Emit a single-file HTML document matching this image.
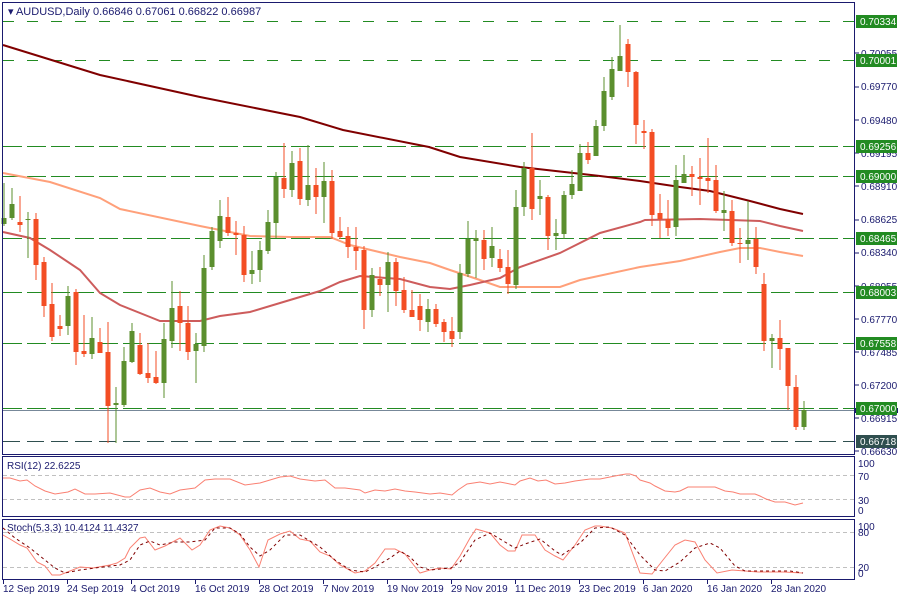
<!DOCTYPE html>
<html><head><meta charset="utf-8"><style>
html,body{margin:0;padding:0;background:#fff;width:900px;height:600px;overflow:hidden}
svg{display:block;font-family:"Liberation Sans",sans-serif}
</style></head><body>
<svg id="s" width="900" height="600" xmlns="http://www.w3.org/2000/svg">
<rect width="900" height="600" fill="#fff"/>
<g id="grid" fill="none" stroke-width="1">
<line x1="3" y1="21.5" x2="854" y2="21.5" stroke="#228b22" stroke-dasharray="11 13"/>
<line x1="3" y1="60.5" x2="854" y2="60.5" stroke="#228b22" stroke-dasharray="11 13"/>
<line x1="3" y1="146.5" x2="854" y2="146.5" stroke="#228b22" stroke-dasharray="19 5"/>
<line x1="3" y1="176.5" x2="854" y2="176.5" stroke="#228b22" stroke-dasharray="19 5"/>
<line x1="3" y1="238.5" x2="854" y2="238.5" stroke="#228b22" stroke-dasharray="19 5"/>
<line x1="3" y1="292.5" x2="854" y2="292.5" stroke="#228b22" stroke-dasharray="19 5"/>
<line x1="3" y1="343.5" x2="854" y2="343.5" stroke="#228b22" stroke-dasharray="19 5"/>
<line x1="3" y1="408.5" x2="854" y2="408.5" stroke="#228b22" stroke-dasharray="19 5"/>
<line x1="3" y1="441.5" x2="854" y2="441.5" stroke="#2f4f4f" stroke-dasharray="17 7"/>
<line x1="3" y1="410.5" x2="854" y2="410.5" stroke="#778899"/>
</g>
<g fill="none" stroke-width="2">
<polyline stroke="#800000" points="3,45 100,75 200,97 300,117 343,130 429,147 460,157 520,167 600,176 640,181 680,187 710,191 750,201 780,209 803,214"/>
<polyline stroke="#ffa07a" points="3,173 50,182 100,198 120,209 200,226 250,236 290,237 330,237 350,245 400,257 430,263 450,270 480,280 500,287 560,287 580,280 640,267 680,261 720,252 740,248 760,248 780,252 803,256"/>
<polyline stroke="#cd5c5c" points="3,232 30,238 50,250 80,270 100,293 120,305 150,317 160,321 200,321 220,316 250,312 290,300 320,291 340,282 360,276 400,279 430,287 450,289 470,285 500,278 520,267 560,253 600,233 640,222 645,220 700,219 760,221 780,226 803,231"/>
</g>
<g id="candles"></g>
<!-- frames -->
<g fill="none" stroke="#1a1a6e" stroke-width="1">
<rect x="2.5" y="2.5" width="852" height="452"/>
<rect x="2.5" y="456.5" width="852" height="60"/>
<rect x="2.5" y="519.5" width="852" height="60"/>
</g>
<text x="8" y="15" font-size="11" fill="#1a1a6e">▾ AUDUSD,Daily  0.66846 0.67061 0.66822 0.66987</text>
<!-- right axis -->
<g font-size="10" fill="#1a1a6e">
<text x="861" y="57">0.70055</text>
<text x="861" y="90">0.69770</text>
<text x="861" y="124">0.69480</text>
<text x="861" y="157">0.69195</text>
<text x="861" y="190">0.68910</text>
<text x="861" y="223">0.68625</text>
<text x="861" y="256">0.68340</text>
<text x="861" y="290">0.68055</text>
<text x="861" y="323">0.67770</text>
<text x="861" y="356">0.67485</text>
<text x="861" y="389">0.67200</text>
<text x="861" y="422">0.66915</text>
<text x="861" y="455">0.66630</text>
</g>
<g stroke="#1a1a6e">
<line x1="855" y1="53" x2="859" y2="53"/><line x1="855" y1="87" x2="859" y2="87"/><line x1="855" y1="120" x2="859" y2="120"/><line x1="855" y1="153" x2="859" y2="153"/><line x1="855" y1="186" x2="859" y2="186"/><line x1="855" y1="220" x2="859" y2="220"/><line x1="855" y1="253" x2="859" y2="253"/><line x1="855" y1="286" x2="859" y2="286"/><line x1="855" y1="319" x2="859" y2="319"/><line x1="855" y1="352" x2="859" y2="352"/><line x1="855" y1="385" x2="859" y2="385"/><line x1="855" y1="418" x2="859" y2="418"/><line x1="855" y1="451" x2="859" y2="451"/>
</g>
<rect x="855" y="408" width="43" height="5" fill="#1a1a6e"/>
<g font-size="10" fill="#fff">
<rect x="856" y="15" width="41" height="13" fill="#228b22"/><text x="860" y="25">0.70334</text>
<rect x="856" y="54" width="41" height="13" fill="#228b22"/><text x="860" y="64">0.70001</text>
<rect x="856" y="140" width="41" height="13" fill="#228b22"/><text x="860" y="150">0.69256</text>
<rect x="856" y="170" width="41" height="13" fill="#228b22"/><text x="860" y="180">0.69000</text>
<rect x="856" y="232" width="41" height="13" fill="#228b22"/><text x="860" y="242">0.68465</text>
<rect x="856" y="286" width="41" height="13" fill="#228b22"/><text x="860" y="296">0.68003</text>
<rect x="856" y="337" width="41" height="13" fill="#228b22"/><text x="860" y="347">0.67558</text>
<rect x="856" y="402" width="41" height="13" fill="#228b22"/><text x="860" y="412">0.67000</text>
<rect x="856" y="435" width="41" height="13" fill="#2f4f4f"/><text x="860" y="445">0.66718</text>
</g>
<!-- RSI -->
<g stroke="#c0c0c0" stroke-dasharray="4 3"><line x1="3" y1="475.5" x2="854" y2="475.5"/><line x1="3" y1="499.5" x2="854" y2="499.5"/>
<line x1="3" y1="532.5" x2="854" y2="532.5"/><line x1="3" y1="567.5" x2="854" y2="567.5"/></g>
<text x="7" y="469" font-size="10" fill="#1a1a6e">RSI(12) 22.6225</text>
<polyline fill="none" stroke="#fa8072" stroke-width="1" points="3,478 10,478 20,481 27,480 35,486 45,491 55,494 68,492 75,489 85,494 95,494 110,493 125,497 130,497 140,490 150,488 160,492 170,494 180,490 195,488 205,480 215,479 230,479 245,485 260,483 270,480 280,477 290,476 300,479 315,481 325,480 335,488 345,488 360,490 365,493 375,490 385,491 395,489 405,491 415,492 430,494 440,493 452,495 458,490 467,484 480,482 485,483 490,484 500,482 510,484 515,485 520,481 530,478 538,481 546,480 555,484 565,483 575,481 590,479 600,479 610,477 620,475 626,474 630,474 636,476 640,480 650,483 655,486 665,491 675,492 680,491 688,487 715,487 725,491 733,492 740,494 755,494 760,496 766,499 775,502 785,502 795,505 803,503"/>
<g font-size="10" fill="#1a1a6e">
<text x="858" y="467">100</text><text x="858" y="480">70</text><text x="858" y="504">30</text><text x="858" y="514">0</text>
<text x="7" y="531">Stoch(5,3,3) 10.4124 11.4327</text>
<text x="858" y="530">100</text><text x="858" y="536">80</text><text x="858" y="571">20</text><text x="858" y="577">0</text>
</g>
<polyline fill="none" stroke="#fa8072" stroke-width="1" points="3,535 10,539 20,545 27,548 37,562 45,566 52,575 60,575 70,571 80,567 93,568 110,565 117,563 125,558 130,548 140,538 145,537 155,550 165,546 180,538 192,550 200,545 210,530 220,526 230,528 240,535 250,550 259,567 268,540 280,534 290,531 300,539 310,541 320,552 330,556 340,565 355,573 365,571 375,563 385,549 395,549 405,554 420,573 430,570 440,568 451,569 460,556 470,538 476,529 490,533 500,545 508,551 515,551 522,535 535,535 545,550 555,556 563,560 575,545 585,530 595,526 600,526 612,528 625,533 640,573 652,574 663,560 675,545 685,540 695,542 705,560 717,573 732,570 758,572 783,572 803,573"/>
<polyline fill="none" stroke="#800000" stroke-width="1" stroke-dasharray="3 3" points="3,528 15,538 30,548 45,560 55,568 65,573 80,570 95,568 110,566 120,565 130,560 140,545 150,541 160,545 175,542 190,542 205,540 215,528 230,528 240,534 250,547 260,556 270,550 285,535 300,535 320,547 335,560 350,570 365,572 375,567 390,558 400,551 410,557 420,567 430,570 451,568 460,562 475,540 490,533 505,542 515,548 525,544 540,539 555,551 562,555 580,543 595,528 610,527 625,535 640,555 655,570 665,571 680,562 695,548 710,543 720,548 735,566 745,571 765,571 790,571 803,573"/>
<!-- date axis -->
<g stroke="#1a1a6e"><line x1="3.5" y1="580" x2="3.5" y2="584"/><line x1="67.5" y1="580" x2="67.5" y2="584"/><line x1="131.5" y1="580" x2="131.5" y2="584"/><line x1="195.5" y1="580" x2="195.5" y2="584"/><line x1="259.5" y1="580" x2="259.5" y2="584"/><line x1="323.5" y1="580" x2="323.5" y2="584"/><line x1="387.5" y1="580" x2="387.5" y2="584"/><line x1="451.5" y1="580" x2="451.5" y2="584"/><line x1="515.5" y1="580" x2="515.5" y2="584"/><line x1="579.5" y1="580" x2="579.5" y2="584"/><line x1="643.5" y1="580" x2="643.5" y2="584"/><line x1="707.5" y1="580" x2="707.5" y2="584"/><line x1="771.5" y1="580" x2="771.5" y2="584"/></g>
<g font-size="10" fill="#1a1a6e">
<text x="3" y="592">12 Sep 2019</text><text x="67" y="592">24 Sep 2019</text><text x="131" y="592">4 Oct 2019</text><text x="195" y="592">16 Oct 2019</text><text x="259" y="592">28 Oct 2019</text><text x="323" y="592">7 Nov 2019</text><text x="387" y="592">19 Nov 2019</text><text x="451" y="592">29 Nov 2019</text><text x="515" y="592">11 Dec 2019</text><text x="579" y="592">23 Dec 2019</text><text x="643" y="592">6 Jan 2020</text><text x="707" y="592">16 Jan 2020</text><text x="771" y="592">28 Jan 2020</text>
</g>
</svg>
<script>
var d="g218,224,183,226;g204,218,188,220;r222,225,196,232;g219,219,212,258;r219,265,213,280;r262,306,257,317;r304,337,283,341;r326,329,315,336;g296,326,286,335;r292,352,289,365;r351,354,315,357;g338,354,317,359;r342,353,328,353;r352,406,322,443;g403,405,387,443;g361,405,347,407;g331,362,323,363;r345,374,333,375;r373,378,343,383;r377,383,351,384;g339,383,323,398;g308,341,281,348;r306,323,291,351;r323,352,306,360;g344,351,333,383;g268,346,255,352;g231,267,227,270;g216,241,200,248;r217,233,197,236;r233,235,221,255;r235,275,226,282;g270,274,251,284;g250,270,241,282;g222,251,210,254;g177,223,172,238;r178,189,143,198;g163,190,151,197;r161,199,148,205;g185,200,145,206;r185,197,168,214;g181,197,162,223;r181,233,170,239;r231,237,217,239;r236,247,227,258;r247,251,227,270;r250,310,246,329;g275,310,268,317;r279,285,267,296;g262,285,252,312;r262,291,258,306;r290,310,277,313;r310,317,290,317;r306,320,294,331;g309,322,299,332;r309,324,304,327;r322,332,319,342;r331,339,317,347;g273,332,264,339;g239,274,221,277;g238,241,230,278;r240,259,230,270;g246,258,227,267;r259,268,249,272;r267,284,250,294;g207,285,190,289;g168,207,162,216;r168,209,133,220;g196,199,180,215;r197,236,195,250;g233,236,219,250;g195,234,191,239;g184,195,170,199;g153,191,144,191;r153,160,142,164;g126,156,120,156;g91,126,77,131;g69,97,57,100;g56,71,25,71;r44,72,39,87;r72,125,71,144;r131,133,120,149;r132,215,129,226;r213,219,194,238;r219,228,200,236;g180,227,165,236;g174,183,155,183;r174,177,166,196;r177,179,158,205;r178,181,138,193;r180,211,165,213;g210,213,191,231;r211,243,200,246;r243,244,228,263;g240,244,201,260;r239,267,227,274;r284,341,273,351;g338,341,334,368;r338,349,320,370;r348,386,348,410;r387,427,375,430;g410,427,401,430";
var g=document.getElementById("candles"),ns="http://www.w3.org/2000/svg",h="";
d.split(";").forEach(function(c,i){var col=c[0]=="g"?"#5b8f2e":"#f34e24";var v=c.slice(1).split(",").map(Number);var x=3.5+8*i;
h+='<line x1="'+(x+0.5)+'" y1="'+v[2]+'" x2="'+(x+0.5)+'" y2="'+v[3]+'" stroke="'+col+'"/>';
h+='<rect x="'+(x-2)+'" y="'+v[0]+'" width="5" height="'+Math.max(1,v[1]-v[0])+'" fill="'+col+'"/>';});
g.innerHTML=h;
</script>
</body></html>
